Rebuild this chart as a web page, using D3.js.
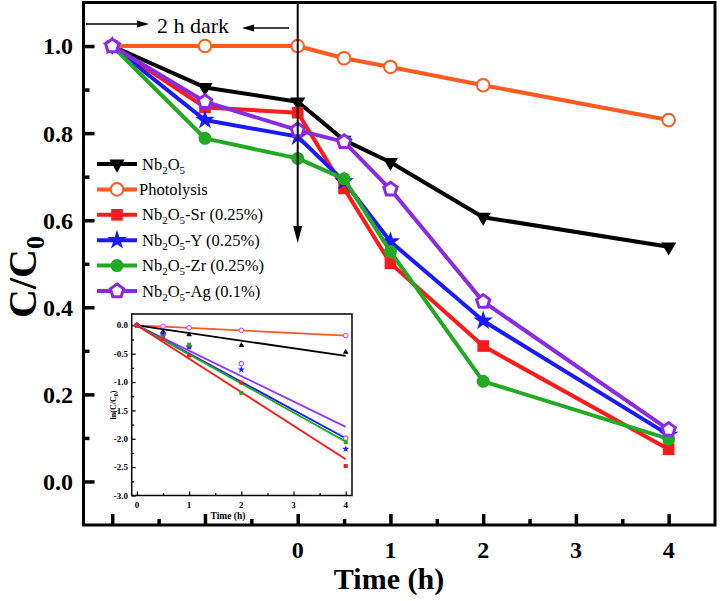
<!DOCTYPE html>
<html><head><meta charset="utf-8">
<script src="https://cdn.jsdelivr.net/npm/d3@7"></script>
<style>body{margin:0;background:#fff}svg{display:block}</style>
</head><body>
<svg id="c" width="720" height="601"></svg>
<script>
// ---------- data ----------
const times = [-2, -1, 0, 0.5, 1, 2, 4];
const xTickLabels = [0, 1, 2, 3, 4];
const yTickLabels = [0.0, 0.2, 0.4, 0.6, 0.8, 1.0];
const nb2o5      = [1.0, 0.905, 0.872, 0.784, 0.733, 0.607, 0.539];
const photolysis = [1.0, 1.0, 1.0, 0.972, 0.952, 0.910, 0.830];
const srDoped    = [1.0, 0.859, 0.847, 0.673, 0.501, 0.311, 0.074];
const yDoped     = [1.0, 0.830, 0.792, 0.689, 0.551, 0.369, 0.107];
const zrDoped    = [1.0, 0.788, 0.742, 0.695, 0.528, 0.230, 0.098];
const agDoped    = [1.0, 0.872, 0.807, 0.780, 0.671, 0.413, 0.119];
const seriesNames = ["Nb2O5", "Photolysis", "Nb2O5-Sr (0.25%)", "Nb2O5-Y (0.25%)", "Nb2O5-Zr (0.25%)", "Nb2O5-Ag (0.1%)"];

// inset: ln(C/C0) after dark period
const insetTimes = [0, 0.5, 1, 2, 4];
const lnNb2o5 = [0, -0.106, -0.165, -0.353, -0.47];
const lnPhoto = [0, -0.015, -0.041, -0.088, -0.18];
const lnSr    = [0, -0.235, -0.53, -1.01, -2.48];
const lnY     = [0, -0.16, -0.38, -0.78, -2.18];
const lnZr    = [0, -0.2, -0.34, -1.19, -2.06];
const lnAg    = [0, -0.17, -0.37, -0.676, -1.99];
// fitted slopes (lines through origin)
const fitSlopes = [-0.135, -0.045, -0.59, -0.4975, -0.5125, -0.4475];
const insetXTicks = [0, 1, 2, 3, 4];
const insetYTicks = [0.0, -0.5, -1.0, -1.5, -2.0, -2.5, -3.0];

// ---------- styles ----------
const colors = ["#000000", "#ff5a1f", "#ff1a1a", "#1a1aff", "#22aa22", "#8a2be2"];
const insetColors = ["#000000", "#ff5a1f", "#ff1a1a", "#1a1aff", "#22aa22", "#9933ff"];
const insetPtColors = ["#000000", "#cc33ff", "#ff1a1a", "#1a1aff", "#22aa22", "#9933ff"];
const serif = "'Liberation Serif','Times New Roman',serif";

const svg = d3.select("#c");
const x = d3.scaleLinear().domain([-2.31, 4.5]).range([83.5, 715]);
const y = d3.scaleLinear().domain([-0.1, 1.1]).range([525, 2.5]);

const mainData = [nb2o5, photolysis, srDoped, yDoped, zrDoped, agDoped];

// ---------- axes (ticks inward) ----------
const gx = svg.append("g").attr("transform", `translate(0,${y.range()[0]})`);
gx.call(d3.axisBottom(x).tickValues(d3.range(-2, 4.01, 1)).tickSize(-11).tickFormat(""));
const gxm = svg.append("g").attr("transform", `translate(0,${y.range()[0]})`);
gxm.call(d3.axisBottom(x).tickValues(d3.range(-1.5, 4.01, 1)).tickSize(-6).tickFormat(""));
const gy = svg.append("g").attr("transform", `translate(${x.range()[0]},0)`);
gy.call(d3.axisLeft(y).tickValues(d3.range(0, 1.01, 0.2)).tickSize(-11).tickFormat(""));
const gym = svg.append("g").attr("transform", `translate(${x.range()[0]},0)`);
gym.call(d3.axisLeft(y).tickValues([0.1, 0.3, 0.5, 0.7, 0.9]).tickSize(-6).tickFormat(""));
[gx, gxm, gy, gym].forEach(g => {
  g.select(".domain").remove();
  g.selectAll(".tick line").attr("stroke", "#000").attr("stroke-width", 3.5);
});
// tick labels
svg.append("g").selectAll("text").data(xTickLabels).join("text")
  .attr("x", d => x(d)).attr("y", 558).attr("text-anchor", "middle")
  .style("font-family", serif).style("font-weight", "bold").style("font-size", "24px")
  .text(d => d);
svg.append("g").selectAll("text").data(yTickLabels).join("text")
  .attr("x", 73).attr("y", d => y(d)).attr("dy", "0.35em").attr("text-anchor", "end")
  .style("font-family", serif).style("font-weight", "bold").style("font-size", "24px")
  .text(d => d.toFixed(1));

// axis titles
svg.append("text").attr("x", 389).attr("y", 589).attr("text-anchor", "middle")
  .style("font-family", serif).style("font-weight", "bold").style("font-size", "30px")
  .text("Time (h)");
const yt = svg.append("text").attr("transform", "translate(36,277) rotate(-90)").attr("text-anchor", "middle")
  .style("font-family", serif).style("font-weight", "bold").style("font-size", "40px");
yt.append("tspan").text("C/C");
yt.append("tspan").attr("dy", 8).style("font-size", "26px").text("0");

// ---------- markers ----------
function pentagon(r) {
  const pts = d3.range(5).map(i => {
    const a = -Math.PI / 2 + i * 2 * Math.PI / 5;
    return [r * Math.cos(a), r * Math.sin(a)];
  });
  return "M" + pts.map(p => p.join(",")).join("L") + "Z";
}
function drawMarker(g, i, cx, cy) {
  const c = colors[i];
  if (i === 0) g.append("path").attr("d", d3.symbol(d3.symbolTriangle, 100)()).attr("transform", `translate(${cx},${cy}) rotate(180)`).attr("fill", c);
  else if (i === 1) g.append("circle").attr("cx", cx).attr("cy", cy).attr("r", 6.3).attr("fill", "#fff").attr("stroke", c).attr("stroke-width", 2);
  else if (i === 2) g.append("path").attr("d", d3.symbol(d3.symbolSquare, 135)()).attr("transform", `translate(${cx},${cy})`).attr("fill", c);
  else if (i === 3) g.append("path").attr("d", d3.symbol(d3.symbolStar, 120)()).attr("transform", `translate(${cx},${cy})`).attr("fill", c);
  else if (i === 4) g.append("circle").attr("cx", cx).attr("cy", cy).attr("r", 6.5).attr("fill", c);
  else g.append("path").attr("d", pentagon(7)).attr("transform", `translate(${cx},${cy})`).attr("fill", "#fff").attr("stroke", c).attr("stroke-width", 3);
}

// ---------- series ----------
const line = d3.line().x(d => x(d[0])).y(d => y(d[1]));
[0, 1, 2, 3, 4, 5].forEach(i => {
  const pts = times.map((t, k) => [t, mainData[i][k]]);
  const g = svg.append("g");
  g.append("path").datum(pts).attr("d", line).attr("fill", "none")
    .attr("stroke", colors[i]).attr("stroke-width", 4).attr("stroke-linejoin", "round");
  pts.forEach(p => drawMarker(g, i, x(p[0]), y(p[1])));
});

// ---------- annotations ----------
const arrowG = svg.append("g");
const x0 = x(0);
arrowG.append("line").attr("x1", x0).attr("x2", x0).attr("y1", y.range()[1]).attr("y2", 228)
  .attr("stroke", "#000").attr("stroke-width", 2);
arrowG.append("path").attr("d", `M${x0 - 4.5},226 L${x0 + 4.5},226 L${x0},243 Z`).attr("fill", "#000");
arrowG.append("line").attr("x1", 86).attr("x2", 140).attr("y1", 24).attr("y2", 24).attr("stroke", "#000").attr("stroke-width", 1.3);
arrowG.append("path").attr("d", "M137,20.5 L149,24 L137,27.5 Z").attr("fill", "#000");
arrowG.append("line").attr("x1", 289).attr("x2", 251).attr("y1", 28).attr("y2", 28).attr("stroke", "#000").attr("stroke-width", 1.3);
arrowG.append("path").attr("d", "M254,24.5 L242,28 L254,31.5 Z").attr("fill", "#000");
svg.append("text").attr("x", 157).attr("y", 33)
  .style("font-family", serif).style("font-size", "22px").text("2 h dark");

// ---------- legend ----------
const leg = svg.append("g");
seriesNames.forEach((name, i) => {
  const cy = 164 + i * 25.4;
  leg.append("line").attr("x1", 97).attr("x2", 137).attr("y1", cy).attr("y2", cy)
    .attr("stroke", colors[i]).attr("stroke-width", 4);
  drawMarker(leg, i, 117, cy);
  const t = leg.append("text").attr("x", i === 1 ? 139 : 142).attr("y", cy + 5.5)
    .style("font-family", serif).style("font-size", "16.5px");
  if (name.startsWith("Nb2O5")) {
    t.append("tspan").text("Nb");
    t.append("tspan").attr("dy", 4).style("font-size", "11px").text("2");
    t.append("tspan").attr("dy", -4).text("O");
    t.append("tspan").attr("dy", 4).style("font-size", "11px").text("5");
    t.append("tspan").attr("dy", -4).text(name.slice(5));
  } else t.text(name);
});

// ---------- inset ----------
const ix = d3.scaleLinear().domain([-0.1, 4.12]).range([131.7, 352]);
const iy = d3.scaleLinear().domain([-3, 0.2]).range([495.5, 314]);
const ins = svg.append("g");
ins.append("rect").attr("x", ix.range()[0]).attr("y", iy.range()[1])
  .attr("width", ix.range()[1] - ix.range()[0]).attr("height", iy.range()[0] - iy.range()[1])
  .attr("fill", "#fff").attr("stroke", "none");
const igx = ins.append("g").attr("transform", `translate(0,${iy.range()[0]})`)
  .call(d3.axisBottom(ix).tickValues(insetXTicks).tickSize(-4).tickFormat(""));
const igxm = ins.append("g").attr("transform", `translate(0,${iy.range()[0]})`)
  .call(d3.axisBottom(ix).tickValues([0.5, 1.5, 2.5, 3.5]).tickSize(-2.5).tickFormat(""));
const igy = ins.append("g").attr("transform", `translate(${ix.range()[0]},0)`)
  .call(d3.axisLeft(iy).tickValues(insetYTicks).tickSize(-4).tickFormat(""));
const igym = ins.append("g").attr("transform", `translate(${ix.range()[0]},0)`)
  .call(d3.axisLeft(iy).tickValues([-0.25, -0.75, -1.25, -1.75, -2.25, -2.75]).tickSize(-2.5).tickFormat(""));
[igx, igxm, igy, igym].forEach(g => {
  g.select(".domain").remove();
  g.selectAll(".tick line").attr("stroke", "#000").attr("stroke-width", 1.2);
});
ins.append("g").selectAll("text").data(insetXTicks).join("text")
  .attr("x", d => ix(d)).attr("y", 508).attr("text-anchor", "middle")
  .style("font-family", serif).style("font-weight", "bold").style("font-size", "9px").text(d => d);
ins.append("g").selectAll("text").data(insetYTicks).join("text")
  .attr("x", 128).attr("y", d => iy(d)).attr("dy", "0.35em").attr("text-anchor", "end")
  .style("font-family", serif).style("font-weight", "bold").style("font-size", "9px").text(d => d.toFixed(1));
ins.append("text").attr("x", 228).attr("y", 519).attr("text-anchor", "middle")
  .style("font-family", serif).style("font-weight", "bold").style("font-size", "9.5px").text("Time (h)");
const iyt = ins.append("text").attr("transform", "translate(116,405) rotate(-90)").attr("text-anchor", "middle")
  .style("font-family", serif).style("font-weight", "bold").style("font-size", "8px");
iyt.append("tspan").text("ln(C/C");
iyt.append("tspan").attr("dy", 2).style("font-size", "6px").text("0");
iyt.append("tspan").attr("dy", -2).text(")");

const lnData = [lnNb2o5, lnPhoto, lnSr, lnY, lnZr, lnAg];
const iline = d3.line().x(d => ix(d[0])).y(d => iy(d[1]));
[1, 0, 5, 3, 4, 2].forEach(i => {
  const fit = [[0, 0], [4, 4 * fitSlopes[i]]];
  ins.append("path").datum(fit).attr("d", iline).attr("stroke", insetColors[i]).attr("stroke-width", 1.8).attr("fill", "none");
});
[1, 0, 5, 3, 4, 2].forEach(i => {
  const c = insetPtColors[i];
  insetTimes.forEach((t, k) => {
    const cx = ix(t), cy = iy(lnData[i][k]);
    if (i === 0) ins.append("path").attr("d", d3.symbol(d3.symbolTriangle, 14)()).attr("transform", `translate(${cx},${cy})`).attr("fill", c);
    else if (i === 1 || i === 5) ins.append("circle").attr("cx", cx).attr("cy", cy).attr("r", 2.3).attr("fill", "#fff").attr("stroke", c).attr("stroke-width", 1);
    else if (i === 2 || i === 4) ins.append("path").attr("d", d3.symbol(d3.symbolSquare, 16)()).attr("transform", `translate(${cx},${cy})`).attr("fill", c);
    else ins.append("path").attr("d", d3.symbol(d3.symbolStar, 16)()).attr("transform", `translate(${cx},${cy})`).attr("fill", c);
  });
});
ins.append("rect").attr("x", ix.range()[0]).attr("y", iy.range()[1])
  .attr("width", ix.range()[1] - ix.range()[0]).attr("height", iy.range()[0] - iy.range()[1])
  .attr("fill", "none").attr("stroke", "#000").attr("stroke-width", 1.5);

// ---------- main frame ----------
svg.append("rect").attr("x", x.range()[0]).attr("y", y.range()[1])
  .attr("width", x.range()[1] - x.range()[0]).attr("height", y.range()[0] - y.range()[1])
  .attr("fill", "none").attr("stroke", "#000").attr("stroke-width", 3);
</script>
</body></html>
